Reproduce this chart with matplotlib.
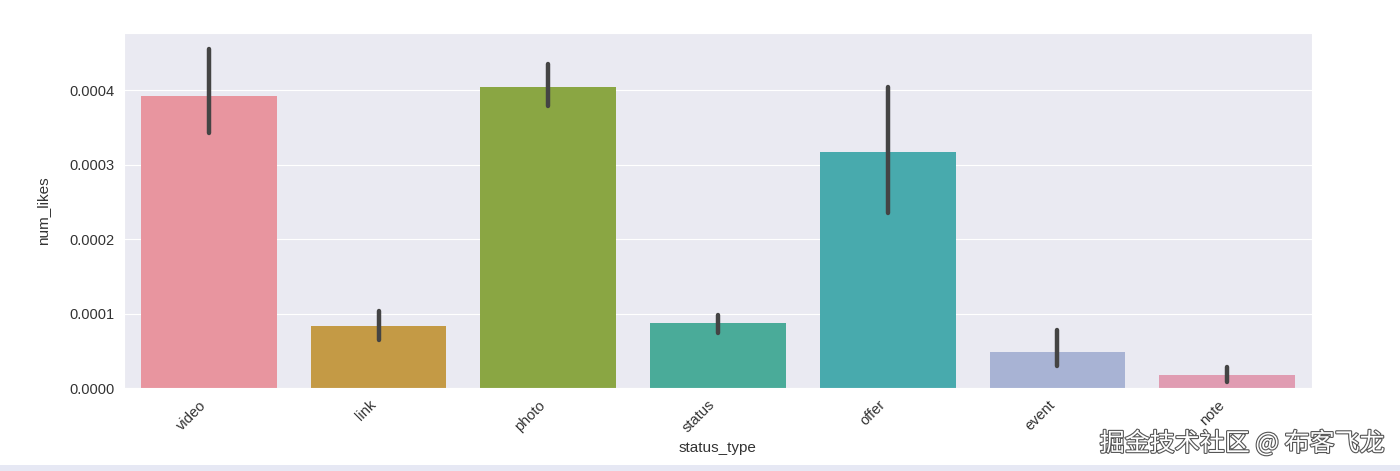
import numpy as np
import pandas as pd
import seaborn as sns
import matplotlib
matplotlib.use('Agg')
from matplotlib import pyplot as plt
from matplotlib import patheffects as pe
from matplotlib.patches import Rectangle

# values
status_types = ['video', 'link', 'photo', 'status', 'offer', 'event', 'note']
mean_likes = [3.93e-4, 0.83e-4, 4.05e-4, 0.87e-4, 3.17e-4, 0.48e-4, 0.17e-4]
ci_low     = [3.42e-4, 0.64e-4, 3.79e-4, 0.74e-4, 2.35e-4, 0.30e-4, 0.08e-4]
ci_high    = [4.56e-4, 1.03e-4, 4.35e-4, 0.98e-4, 4.04e-4, 0.78e-4, 0.28e-4]
bar_colors = ['#e8959f', '#c49a45', '#8aa643', '#4aab99', '#48aaad', '#a8b3d4', '#e09cb2']

def main():
    sns.set_style('darkgrid')
    plt.rcParams['font.family'] = ['Liberation Sans', 'DejaVu Sans']

    df = pd.DataFrame({'status_type': status_types, 'num_likes': mean_likes})

    fig = plt.figure(figsize=(14, 4.71), dpi=100)
    ax = fig.add_axes([0.0886, 0.176, 0.8485, 0.754])
    sns.barplot(data=df, x='status_type', y='num_likes', hue='status_type',
                palette=bar_colors, saturation=1, errorbar=None, legend=False,
                linewidth=0, ax=ax)

    xpos = np.arange(len(status_types))
    ax.vlines(xpos, ci_low, ci_high, colors='#444444', linewidth=3.2,
              capstyle='round', zorder=3)

    ax.set_xlim(-0.5, len(status_types) - 0.5)
    ax.set_ylim(0, 4.77e-4)
    ax.set_yticks([0, 1e-4, 2e-4, 3e-4, 4e-4])
    ax.set_yticklabels(['0.0000', '0.0001', '0.0002', '0.0003', '0.0004'])
    ax.set_xticks(xpos)
    ax.set_xticklabels(status_types, rotation=45, ha='right', rotation_mode='default')
    ax.tick_params(axis='both', labelsize=10.5, colors='#333333')
    ax.set_xlabel('status_type', fontsize=11, color='#333333', labelpad=4)
    ax.set_ylabel('num_likes', fontsize=11, color='#333333', labelpad=14)

    fig.text(0.989, 0.03, '掘金技术社区 @ 布客飞龙', ha='right', va='bottom',
             fontsize=18, color='white', family=['Noto Sans CJK SC', 'DejaVu Sans'],
             path_effects=[pe.withStroke(linewidth=1.6, foreground='#555555')])

    fig.patches.append(Rectangle((0, 0), 1, 0.013, transform=fig.transFigure,
                                 facecolor='#e6e8f4', edgecolor='none', zorder=0))

    fig.savefig('out.png', dpi=100)
    plt.close()

if __name__ == '__main__': main()
